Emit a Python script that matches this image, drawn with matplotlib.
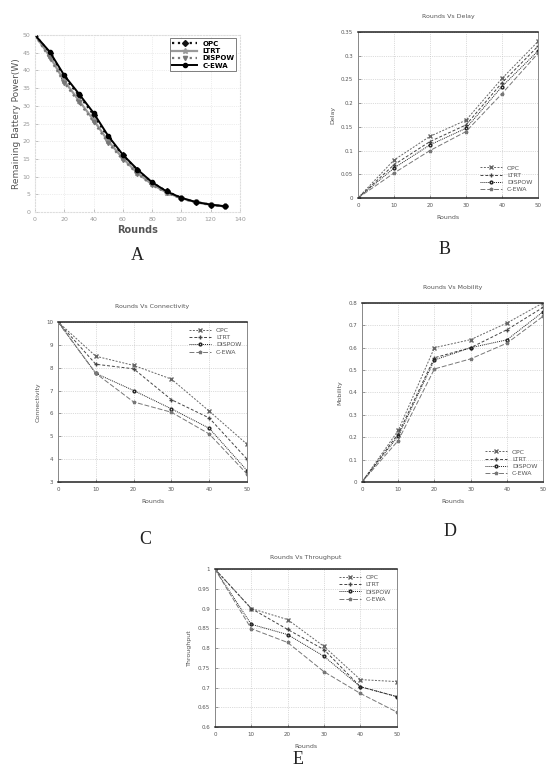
import matplotlib
matplotlib.use("Agg")
import matplotlib.pyplot as plt

# Data
names = ["OPC", "LTRT", "DISPOW", "C-EWA"]

# A: remaining battery power
rounds_a = [0, 10, 20, 30, 40, 50, 60, 70, 80, 90, 100, 110, 120, 130]
power_opc = [50, 45, 38, 33, 27.5, 21, 16, 11.8, 8.3, 5.8, 4, 2.8, 2.1, 1.6]
power_ltrt = [50, 44, 37, 31.5, 26, 20, 15.2, 11, 7.8, 5.5, 3.9, 2.8, 2.1, 1.6]
power_dispow = [50, 43.5, 36.5, 31, 25.5, 19.5, 14.8, 10.8, 7.6, 5.4, 3.8, 2.7, 2.0, 1.5]
power_cewa = [50, 45.3, 38.6, 33.4, 28, 21.5, 16.2, 12, 8.4, 5.8, 4, 2.8, 2.1, 1.6]

rounds = [0, 10, 20, 30, 40, 50]

# B: delay
delay_opc = [0, 0.08, 0.13, 0.164, 0.252, 0.33]
delay_ltrt = [0, 0.07, 0.119, 0.154, 0.243, 0.32]
delay_dispow = [0, 0.063, 0.112, 0.147, 0.235, 0.31]
delay_cewa = [0, 0.0525, 0.1, 0.14, 0.22, 0.305]

# C: connectivity
conn_opc = [10, 8.5, 8.1, 7.5, 6.1, 4.65]
conn_ltrt = [10, 8.15, 7.95, 6.6, 5.8, 4.0]
conn_dispow = [10, 7.75, 7.0, 6.2, 5.35, 3.5]
conn_cewa = [10, 7.75, 6.5, 6.05, 5.1, 3.35]

# D: mobility
mob_opc = [0, 0.23, 0.6, 0.636, 0.71, 0.8]
mob_ltrt = [0, 0.215, 0.555, 0.6, 0.68, 0.78]
mob_dispow = [0, 0.205, 0.545, 0.6, 0.635, 0.76]
mob_cewa = [0, 0.185, 0.505, 0.55, 0.62, 0.74]

# E: throughput
thr_opc = [1, 0.9, 0.872, 0.804, 0.72, 0.715]
thr_ltrt = [1, 0.9, 0.847, 0.796, 0.702, 0.677]
thr_dispow = [1, 0.86, 0.834, 0.779, 0.702, 0.677]
thr_cewa = [1, 0.849, 0.814, 0.74, 0.685, 0.638]

plt.rcParams["font.family"] = "DejaVu Sans"
txt = "#555555"

fig = plt.figure(figsize=(5.51, 7.73), dpi=100)


def frame(ax):
    for s in ["top", "bottom"]:
        ax.spines[s].set_color("#222222")
        ax.spines[s].set_linewidth(1.1)
    for s in ["left", "right"]:
        ax.spines[s].set_color("#888888")
        ax.spines[s].set_linewidth(0.7)
    ax.tick_params(labelsize=4, colors=txt, length=2, width=0.4, direction="in")
    ax.grid(True, linestyle=":", color="#bbbbbb", linewidth=0.5)


# Panel A
ax = fig.add_axes([0.0635, 0.7257, 0.372, 0.229])
ax.plot(rounds_a, power_opc, color="#111111", ls=":", lw=1.6, marker="D", ms=3, label=names[0])
ax.plot(rounds_a, power_ltrt, color="#999999", ls="-", lw=1.6, marker="*", ms=4, label=names[1])
ax.plot(rounds_a, power_dispow, color="#777777", ls=":", lw=1.6, marker="v", ms=3, label=names[2])
ax.plot(rounds_a, power_cewa, color="#000000", ls="-", lw=1.4, marker="o", ms=3, label=names[3])
ax.set_xlim(0, 140)
ax.set_ylim(0, 50)
ax.set_xticks(range(0, 141, 20))
ax.set_yticks(range(0, 51, 5))
ax.tick_params(labelsize=4.5, colors="#999999", length=2, width=0.4, direction="in")
for s in ax.spines.values():
    s.set_color("#dddddd")
    s.set_linestyle(":")
ax.grid(True, linestyle=":", color="#dddddd", linewidth=0.5)
ax.set_xlabel("Rounds", fontsize=7, color=txt, fontweight="bold", labelpad=2)
ax.set_ylabel("Remaining Battery Power(W)", fontsize=6.5, color=txt, labelpad=1)
leg = ax.legend(loc="upper right", fontsize=5, handlelength=3.5, borderpad=0.3, labelspacing=0.2,
                fancybox=False, edgecolor="#444444", prop={"size": 5, "weight": "bold"})
leg.get_frame().set_linewidth(0.6)

small_styles = [
    dict(color="#666666", ls=(0, (2, 1.5)), marker="x", ms=2.5),
    dict(color="#444444", ls=(0, (3, 2)), marker="+", ms=3),
    dict(color="#222222", ls=(0, (1, 1)), marker="o", ms=2, mfc="none"),
    dict(color="#777777", ls=(0, (5, 2)), marker="*", ms=2.5),
]


def small_panel(rect, series, ylim, yticks, ylabels, title, ylabel, legloc, tpad):
    ax = fig.add_axes(rect)
    for vals, name, st in zip(series, names, small_styles):
        ax.plot(rounds, vals, lw=0.7, label=name, **st)
    ax.set_xlim(0, 50)
    ax.set_ylim(*ylim)
    ax.set_xticks(rounds)
    ax.set_yticks(yticks)
    ax.set_yticklabels(ylabels)
    frame(ax)
    ax.set_title(title, fontsize=4.5, color=txt, pad=tpad)
    ax.set_xlabel("Rounds", fontsize=4.5, color=txt, labelpad=5)
    ax.set_ylabel(ylabel, fontsize=4.5, color=txt, labelpad=4)
    ax.legend(loc=legloc, fontsize=4.5, frameon=False, handlelength=3.5, labelspacing=0.3,
              labelcolor=txt)
    return ax


small_panel([0.6497, 0.7439, 0.3267, 0.2147],
            [delay_opc, delay_ltrt, delay_dispow, delay_cewa],
            (0, 0.35), [0, 0.05, 0.1, 0.15, 0.2, 0.25, 0.3, 0.35],
            ["0", "0.05", "0.1", "0.15", "0.2", "0.25", "0.3", "0.35"],
            "Rounds Vs Delay", "Delay", "lower right", 10)

small_panel([0.1053, 0.3765, 0.343, 0.207],
            [conn_opc, conn_ltrt, conn_dispow, conn_cewa],
            (3, 10), [3, 4, 5, 6, 7, 8, 9, 10],
            ["3", "4", "5", "6", "7", "8", "9", "10"],
            "Rounds Vs Connectivity", "Connectivity", "upper right", 10)

small_panel([0.657, 0.3765, 0.3285, 0.2316],
            [mob_opc, mob_ltrt, mob_dispow, mob_cewa],
            (0, 0.8), [0, 0.1, 0.2, 0.3, 0.4, 0.5, 0.6, 0.7, 0.8],
            ["0", "0.1", "0.2", "0.3", "0.4", "0.5", "0.6", "0.7", "0.8"],
            "Rounds Vs Mobility", "Mobility", "lower right", 10)

small_panel([0.390, 0.0595, 0.330, 0.2044],
            [thr_opc, thr_ltrt, thr_dispow, thr_cewa],
            (0.6, 1.0), [0.6, 0.65, 0.7, 0.75, 0.8, 0.85, 0.9, 0.95, 1.0],
            ["0.6", "0.65", "0.7", "0.75", "0.8", "0.85", "0.9", "0.95", "1"],
            "Rounds Vs Throughput", "Throughput", "upper right", 7)

# Panel letters
letters = ["A", "B", "C", "D", "E"]
letter_pos = [(137, 256), (445, 250), (145, 540), (450, 532), (298, 760)]
for lab, (px, py) in zip(letters, letter_pos):
    fig.text(px / 551, 1 - py / 773, lab, fontsize=13, family="Liberation Serif",
             color="#222222", ha="center", va="center",
             fontweight="light" if lab == "A" else "normal")

fig.savefig("out.png", dpi=100)
